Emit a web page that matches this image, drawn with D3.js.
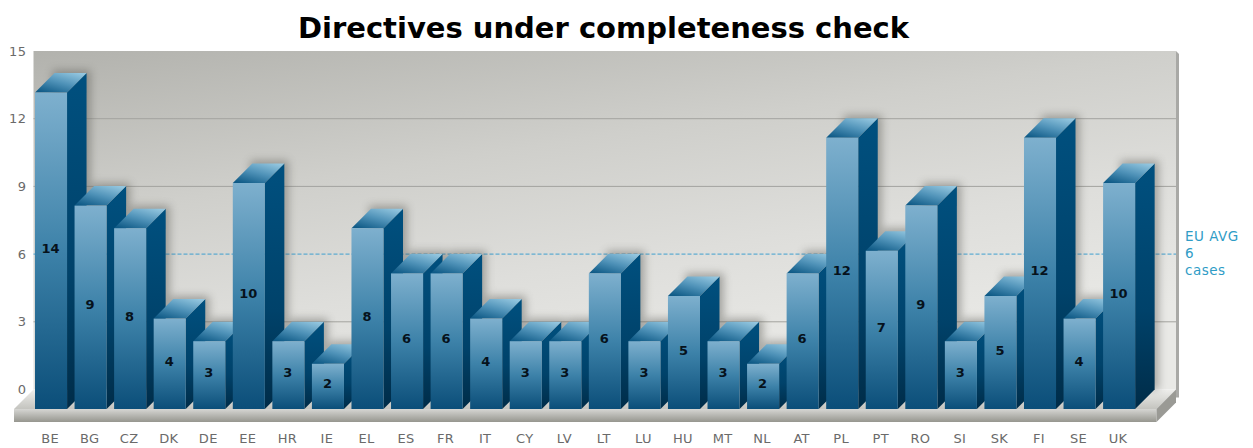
<!DOCTYPE html>
<html>
<head>
<meta charset="utf-8">
<script src="https://cdn.jsdelivr.net/npm/d3@7"></script>
<style>
html,body{margin:0;padding:0;background:#fff}
svg{display:block}
text{font-family:"DejaVu Sans",Verdana,sans-serif}
</style>
</head>
<body>
<div id="chart"></div>
<script>
// Infringement cases per member state
const categories = ["BE","BG","CZ","DK","DE","EE","HR","IE","EL","ES","FR","IT","CY","LV","LT","LU","HU","MT","NL","AT","PL","PT","RO","SI","SK","FI","SE","UK"];
const cases = [14,9,8,4,3,10,3,2,8,6,6,4,3,3,6,3,5,3,2,6,12,7,9,3,5,12,4,10];
const yTicks = [0,3,6,9,12,15];
const averageValue = 6;
const averageLabel = ["EU AVG","6","cases"];
const chartTitle = "Directives under completeness check";

const width = 1253, height = 448;
const depth = 19.5;                 // 3D offset of the back plane
const floorFront = 409, floorThick = 13;
const wall = {x0: 33.5, x1: 1176, top: 51};

const svg = d3.select("#chart").append("svg").attr("width", width).attr("height", height);
const defs = svg.append("defs");

function linear(id, x1, y1, x2, y2, stops) {
  const g = defs.append("linearGradient").attr("id", id)
    .attr("x1", x1).attr("y1", y1).attr("x2", x2).attr("y2", y2);
  stops.forEach(([o, c]) => g.append("stop").attr("offset", o).attr("stop-color", c));
}
linear("wallFill", 0, 0, 0.5, 1, [[0, "#b2b2ad"], [0.4, "#cfcfcb"], [0.7, "#dededb"], [1, "#e9e9e6"]]);
linear("frontFill", 0, 0, 0, 1, [[0, "#7eb0ce"], [0.5, "#3d82a9"], [1, "#0b4e79"]]);
linear("sideFill", 0, 0, 0, 1, [[0, "#00507f"], [0.6, "#00426a"], [1, "#002c48"]]);
linear("topFill", 0.15, 1, 0.85, 0, [[0, "#0f5a86"], [0.5, "#4f92b8"], [1, "#93c6df"]]);
linear("floorFront", 0, 0, 0, 1, [[0, "#d6d6d3"], [1, "#96968f"]]);
linear("floorTop", 0, 0, 0, 1, [[0, "#eeeeec"], [1, "#c4c4bf"]]);
const blur = defs.append("filter").attr("id", "soft")
  .attr("x", "-30%").attr("y", "-30%").attr("width", "160%").attr("height", "160%");
blur.append("feGaussianBlur").attr("stdDeviation", 4);

const x = d3.scaleBand().domain(categories).range([31.24, 1138.9]).paddingInner(0.19).paddingOuter(0.095);
const unit = 22.6;
// y maps a value onto the front plane; yBack maps it onto the back wall
const y = d3.scaleLinear().domain([0, 15]).range([floorFront, floorFront - 15 * unit]);
const yBack = d3.scaleLinear().domain([0, 15]).range([floorFront - depth, wall.top]);

// back wall
svg.append("path")
  .attr("d", `M${wall.x1},${wall.top}L${wall.x1 + 3},${wall.top + 3}V${floorFront - depth + 8}H${wall.x1}Z`)
  .attr("fill", "#a9a9a6");
svg.append("rect").attr("x", wall.x0).attr("y", wall.top)
  .attr("width", wall.x1 - wall.x0).attr("height", floorFront - depth - wall.top)
  .attr("fill", "url(#wallFill)");

// horizontal gridlines
svg.append("g").selectAll("line").data(yTicks.filter(t => t > 0 && t < 15 && t !== averageValue)).join("line")
  .attr("x1", wall.x0).attr("x2", wall.x1)
  .attr("y1", d => yBack(d)).attr("y2", d => yBack(d))
  .attr("stroke", "#a3a39f").attr("stroke-width", 1);

// EU average reference line
svg.append("line")
  .attr("x1", wall.x0).attr("x2", wall.x1)
  .attr("y1", yBack(averageValue)).attr("y2", yBack(averageValue))
  .attr("stroke", "#3f9fcf").attr("stroke-width", 1).attr("stroke-dasharray", "4,2");

// floor
const fl = wall.x0 - depth, fr = wall.x1 - depth;
svg.append("path")
  .attr("d", `M${fl},${floorFront}L${wall.x0},${floorFront - depth}H${wall.x1}L${fr},${floorFront}Z`)
  .attr("fill", "url(#floorTop)");
svg.append("rect").attr("x", fl).attr("y", floorFront).attr("width", fr - fl).attr("height", floorThick)
  .attr("fill", "url(#floorFront)");
svg.append("path")
  .attr("d", `M${fr},${floorFront}L${wall.x1},${floorFront - depth}V${floorFront - depth + floorThick}L${fr},${floorFront + floorThick}Z`)
  .attr("fill", "#9a9a95");

// soft shadows cast by the bars on the wall
const rows = categories.map((c, i) => ({c, v: cases[i]}));
svg.append("g").attr("filter", "url(#soft)").attr("opacity", 0.45)
  .selectAll("rect").data(rows).join("rect")
  .attr("x", d => x(d.c) + depth - 2)
  .attr("y", d => y(d.v) - depth - 3)
  .attr("width", x.bandwidth() + 6)
  .attr("height", d => floorFront - depth - y(d.v) + depth + 3)
  .attr("fill", "#55554f");

// bars, painted left to right so each front face overlaps its neighbour's side
const w = x.bandwidth();
const bar = svg.append("g").selectAll("g").data(rows).join("g");
bar.append("path")
  .attr("d", d => {
    const l = x(d.c) + w, t = y(d.v);
    return `M${l},${t}L${l + depth},${t - depth}V${floorFront - depth}L${l},${floorFront}Z`;
  })
  .attr("fill", "url(#sideFill)");
bar.append("path")
  .attr("d", d => {
    const l = x(d.c), t = y(d.v);
    return `M${l},${t}L${l + depth},${t - depth}H${l + w + depth}L${l + w},${t}Z`;
  })
  .attr("fill", "url(#topFill)");
bar.append("rect")
  .attr("x", d => x(d.c)).attr("y", d => y(d.v))
  .attr("width", w).attr("height", d => floorFront - y(d.v))
  .attr("fill", "url(#frontFill)");
bar.append("text")
  .attr("x", d => x(d.c) + w / 2 - 0.5)
  .attr("y", d => (y(d.v) + floorFront) / 2 + 2)
  .attr("text-anchor", "middle")
  .attr("font-size", 13).attr("font-weight", "bold").attr("fill", "#06121c")
  .text(d => d.v);

// value axis on the back wall
const axisFont = '"DejaVu Sans",Verdana,sans-serif';
const yAxis = d3.axisLeft(yBack).tickValues(yTicks).tickSize(0).tickPadding(0);
const yG = svg.append("g").attr("transform", "translate(26.5,0)").call(yAxis);
yG.select(".domain").remove();
yG.selectAll("text").attr("font-size", 13).attr("letter-spacing", 0.5).attr("fill", "#6a6a6a").style("font-family", axisFont);

// category axis under the floor
const xAxis = d3.axisBottom(x).tickSize(0).tickPadding(0);
const xG = svg.append("g").attr("transform", "translate(-1,433.5)").call(xAxis);
xG.select(".domain").remove();
xG.selectAll("text").attr("font-size", 13).attr("letter-spacing", 0.3).attr("fill", "#6a6a6a").style("font-family", axisFont);

// side legend for the average line
svg.append("g").selectAll("text").data(averageLabel).join("text")
  .attr("x", 1185).attr("y", (d, i) => yBack(averageValue) + (i - 1) * 17 + 4)
  .attr("font-size", 13.5).attr("letter-spacing", 0.5).attr("fill", "#2f9cc6").text(d => d);

svg.append("text").attr("x", 603.5).attr("y", 37.5).attr("text-anchor", "middle")
  .attr("font-size", 29).attr("font-weight", "bold").attr("fill", "#000").text(chartTitle);
</script>
</body>
</html>
